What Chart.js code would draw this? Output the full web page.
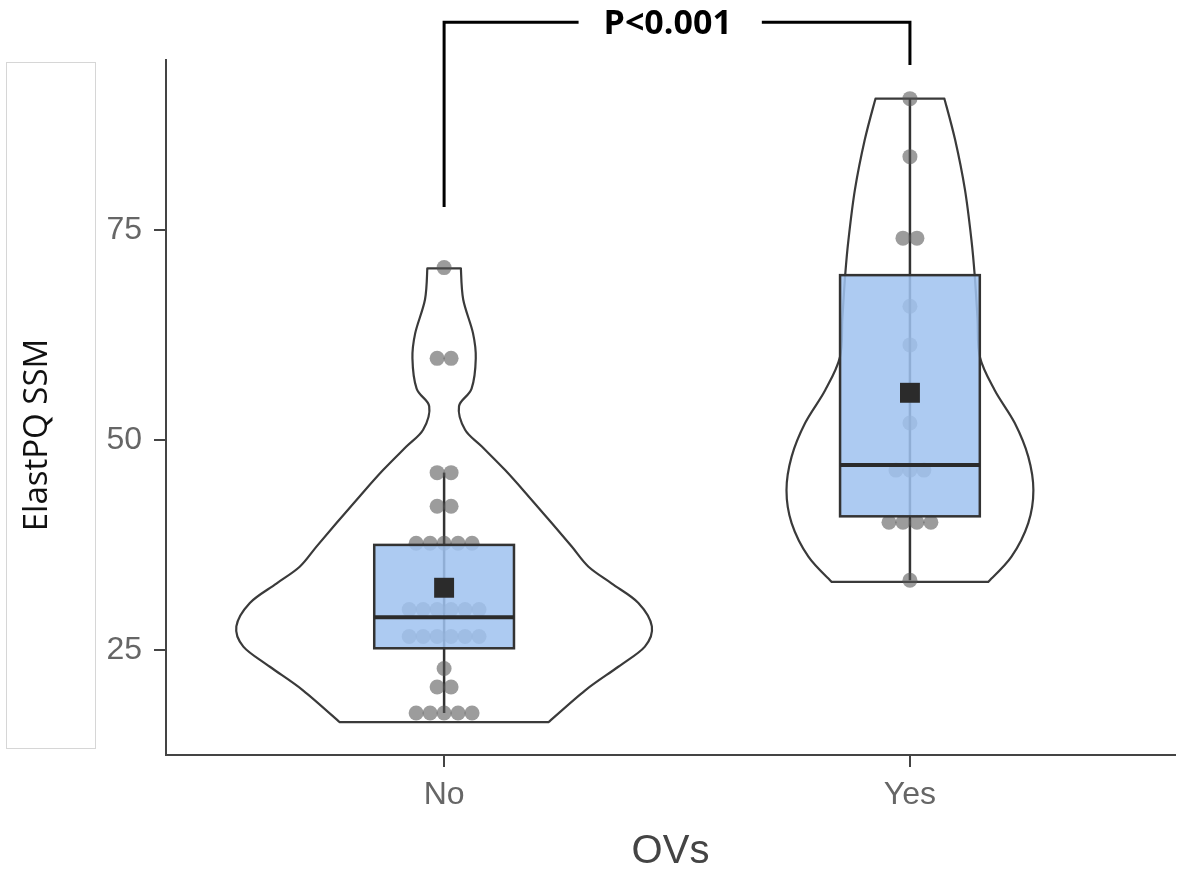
<!DOCTYPE html>
<html>
<head>
<meta charset="utf-8">
<script src="https://cdn.jsdelivr.net/npm/chart.js@4.4.1/dist/chart.umd.min.js"></script>
<style>
html, body { margin: 0; padding: 0; background: #fff; }
</style>
</head>
<body>
<canvas id="canvasViolin" width="1192" height="881"></canvas>
<script>
// Nhom va truc
var categories = ["No", "Yes"];
var yTicks = [25, 50, 75];

// Diem tung nhom (ElastPQ SSM)
var noValues = [70.5, 59.7, 59.7, 46.1, 46.1, 42.1, 42.1,
    37.7, 37.7, 37.7, 37.7, 37.7,
    29.8, 29.8, 29.8, 29.8, 29.8, 29.8,
    26.6, 26.6, 26.6, 26.6, 26.6, 26.6,
    22.8, 20.6, 20.6, 17.5, 17.5, 17.5, 17.5, 17.5];
var yesValues = [90.6, 83.7, 74.0, 74.0, 65.9, 61.3, 52.0,
    46.4, 46.4, 46.4, 40.2, 40.2, 40.2, 40.2, 33.3];

// Hop (No, Yes)
var q1Values = [25.2, 40.9];
var medianValues = [28.9, 47.0];
var q3Values = [37.5, 69.6];
var whiskerLow = [17.5, 33.3];
var whiskerHigh = [46.1, 90.6];
var meanValues = [32.4, 55.6];

// Violin: muc y (tren xuong duoi) va nua be rong
var noViolinY = [70.4, 66.7, 62.7, 59.7, 56.1, 54.0, 51.2, 49.2, 46.4, 43.3, 40.1, 37.3, 34.9, 32.9, 30.6, 27.8, 25.4, 23.0, 20.2, 16.4];
var noViolinW = [0.036, 0.041, 0.062, 0.068, 0.059, 0.032, 0.045, 0.081, 0.131, 0.181, 0.231, 0.274, 0.310, 0.360, 0.417, 0.446, 0.431, 0.374, 0.303, 0.224];
var yesViolinY = [90.6, 85.7, 79.8, 73.8, 69.6, 64.5, 59.9, 55.9, 52.0, 48.0, 44.0, 40.1, 36.1, 33.1];
var yesViolinW = [0.074, 0.097, 0.118, 0.132, 0.139, 0.145, 0.150, 0.182, 0.225, 0.254, 0.265, 0.254, 0.218, 0.168];

// Nhan p
var pLabel = "P<0.001";
var bracketTop = 99.7;
var bracketEnds = [77.7, 94.6];

var violins = [
    { y: noViolinY, w: noViolinW },
    { y: yesViolinY, w: yesViolinW }
];

// Diem xep canh nhau khi trung gia tri
function TaoDiem(values, center) {
    var counts = {};
    var order = [];
    values.forEach(function (v) {
        if (counts[v] == null) { counts[v] = 0; order.push(v); }
        counts[v]++;
    });
    var pts = [];
    order.forEach(function (v) {
        var n = counts[v];
        for (var i = 0; i < n; i++) {
            pts.push({ x: center + (i - (n - 1) / 2) * 0.03, y: v });
        }
    });
    return pts;
}

// Duong cong qua cac diem (catmull-rom)
function DuongCong(ctx, pts) {
    for (var i = 0; i < pts.length - 1; i++) {
        var p0 = pts[i - 1] || pts[i];
        var p1 = pts[i];
        var p2 = pts[i + 1];
        var p3 = pts[i + 2] || p2;
        var c1x = p1.x + (p2.x - p0.x) / 6, c1y = p1.y + (p2.y - p0.y) / 6;
        var c2x = p2.x - (p3.x - p1.x) / 6, c2y = p2.y - (p3.y - p1.y) / 6;
        ctx.bezierCurveTo(c1x, c1y, c2x, c2y, p2.x, p2.y);
    }
}

var violinPlugin = {
    id: 'violinBox',
    beforeDatasetsDraw: function (chart) {
        var ctx = chart.ctx, xs = chart.scales.x, ys = chart.scales.y;
        ctx.save();
        violins.forEach(function (v, g) {
            var c = g + 1;
            var left = [], right = [];
            for (var i = v.y.length - 1; i >= 0; i--) {
                left.push({ x: xs.getPixelForValue(c - v.w[i]), y: ys.getPixelForValue(v.y[i]) });
            }
            for (var j = 0; j < v.y.length; j++) {
                right.push({ x: xs.getPixelForValue(c + v.w[j]), y: ys.getPixelForValue(v.y[j]) });
            }
            ctx.beginPath();
            ctx.moveTo(left[0].x, left[0].y);
            DuongCong(ctx, left);
            ctx.lineTo(right[0].x, right[0].y);
            DuongCong(ctx, right);
            ctx.closePath();
            ctx.fillStyle = '#ffffff';
            ctx.fill();
            ctx.lineWidth = 2.2;
            ctx.lineJoin = 'round';
            ctx.strokeStyle = '#3a3a3a';
            ctx.stroke();

            // rau
            var cx = xs.getPixelForValue(c);
            ctx.beginPath();
            ctx.moveTo(cx, ys.getPixelForValue(whiskerLow[g]));
            ctx.lineTo(cx, ys.getPixelForValue(whiskerHigh[g]));
            ctx.lineWidth = 2.5;
            ctx.strokeStyle = '#333';
            ctx.stroke();
        });
        ctx.restore();
    },
    afterDatasetDraw: function (chart, args) {
        if (args.index !== 1) return;
        var ctx = chart.ctx, xs = chart.scales.x, ys = chart.scales.y;
        ctx.save();
        for (var g = 0; g < categories.length; g++) {
            var x0 = xs.getPixelForValue(g + 1 - 0.15);
            var x1 = xs.getPixelForValue(g + 1 + 0.15);
            var yTop = ys.getPixelForValue(q3Values[g]);
            var yBot = ys.getPixelForValue(q1Values[g]);
            ctx.fillStyle = 'rgba(160,195,240,0.86)';
            ctx.fillRect(x0, yTop, x1 - x0, yBot - yTop);
            ctx.lineWidth = 2.5;
            ctx.strokeStyle = '#333';
            ctx.strokeRect(x0, yTop, x1 - x0, yBot - yTop);
            var ym = ys.getPixelForValue(medianValues[g]);
            ctx.beginPath();
            ctx.moveTo(x0, ym);
            ctx.lineTo(x1, ym);
            ctx.lineWidth = 4;
            ctx.strokeStyle = '#2b2b2b';
            ctx.stroke();
        }
        ctx.restore();
    },
    afterDraw: function (chart) {
        var ctx = chart.ctx, xs = chart.scales.x, ys = chart.scales.y;
        ctx.save();
        // khung nhan truc y
        ctx.strokeStyle = '#d6d6d6';
        ctx.lineWidth = 1;
        ctx.strokeRect(6.5, 62.5, 89, 686);
        ctx.translate(38, 435);
        ctx.rotate(-Math.PI / 2);
        ctx.fillStyle = '#111';
        ctx.font = '33px "Open Sans"';
        ctx.textAlign = 'center';
        ctx.textBaseline = 'middle';
        ctx.fillText('ElastPQ SSM', 0, 0);
        ctx.restore();

        // ngoac p
        ctx.save();
        var xa = xs.getPixelForValue(1), xb = xs.getPixelForValue(2);
        var yt = ys.getPixelForValue(bracketTop);
        ctx.font = 'bold 34px "Open Sans"';
        var tw = ctx.measureText(pLabel).width;
        var tx = xs.getPixelForValue(1.48);
        ctx.strokeStyle = '#000';
        ctx.lineWidth = 3;
        ctx.beginPath();
        ctx.moveTo(xa, ys.getPixelForValue(bracketEnds[0]));
        ctx.lineTo(xa, yt);
        ctx.lineTo(tx - tw / 2 - 25, yt);
        ctx.moveTo(tx + tw / 2 + 30, yt);
        ctx.lineTo(xb, yt);
        ctx.lineTo(xb, ys.getPixelForValue(bracketEnds[1]));
        ctx.stroke();
        ctx.fillStyle = '#000';
        ctx.textAlign = 'center';
        ctx.textBaseline = 'middle';
        ctx.fillText(pLabel, tx, yt + 2);
        ctx.restore();
    }
};

function VeBieuDo() {
    var dots = TaoDiem(noValues, 1).concat(TaoDiem(yesValues, 2));
    var means = meanValues.map(function (m, i) { return { x: i + 1, y: m }; });
    var tickFont = { family: '"Liberation Sans", Arial', size: 32 };

    new Chart(document.getElementById('canvasViolin'), {
        type: 'scatter',
        data: {
            datasets: [{
                data: means,
                pointStyle: 'rect',
                pointRadius: 14.1,
                backgroundColor: '#2b2b2b',
                borderColor: '#2b2b2b',
                borderWidth: 0
            }, {
                data: dots,
                pointRadius: 7.5,
                backgroundColor: 'rgba(85,85,85,0.58)',
                borderWidth: 0
            }]
        },
        options: {
            responsive: false,
            animation: false,
            devicePixelRatio: 1,
            layout: { padding: { top: 60, right: 17, left: 0, bottom: 0 } },
            plugins: { legend: { display: false }, tooltip: { enabled: false } },
            scales: {
                x: {
                    type: 'linear',
                    min: 0.403,
                    max: 2.569,
                    afterBuildTicks: function (s) { s.ticks = [{ value: 1 }, { value: 2 }]; },
                    afterFit: function (s) { s.height = 126; },
                    ticks: {
                        callback: function (v) { return categories[Math.round(v) - 1]; },
                        color: '#666',
                        font: tickFont,
                        padding: 9
                    },
                    grid: { drawOnChartArea: false, drawTicks: true, tickLength: 12, color: '#444', lineWidth: 2 },
                    border: { color: '#444', width: 2 },
                    title: {
                        display: true,
                        text: 'OVs',
                        color: '#444',
                        font: { family: '"Liberation Sans", Arial', size: 40 },
                        padding: { top: 0, bottom: 5 }
                    }
                },
                y: {
                    min: 12.5,
                    max: 95.2,
                    afterBuildTicks: function (s) { s.ticks = yTicks.map(function (v) { return { value: v }; }); },
                    afterFit: function (s) { s.width = 166; },
                    ticks: { color: '#666', font: tickFont, padding: 12 },
                    grid: { drawOnChartArea: false, drawTicks: true, tickLength: 12, color: '#444', lineWidth: 2 },
                    border: { color: '#444', width: 2 }
                }
            }
        },
        plugins: [violinPlugin]
    });
}

VeBieuDo();
</script>
</body>
</html>
